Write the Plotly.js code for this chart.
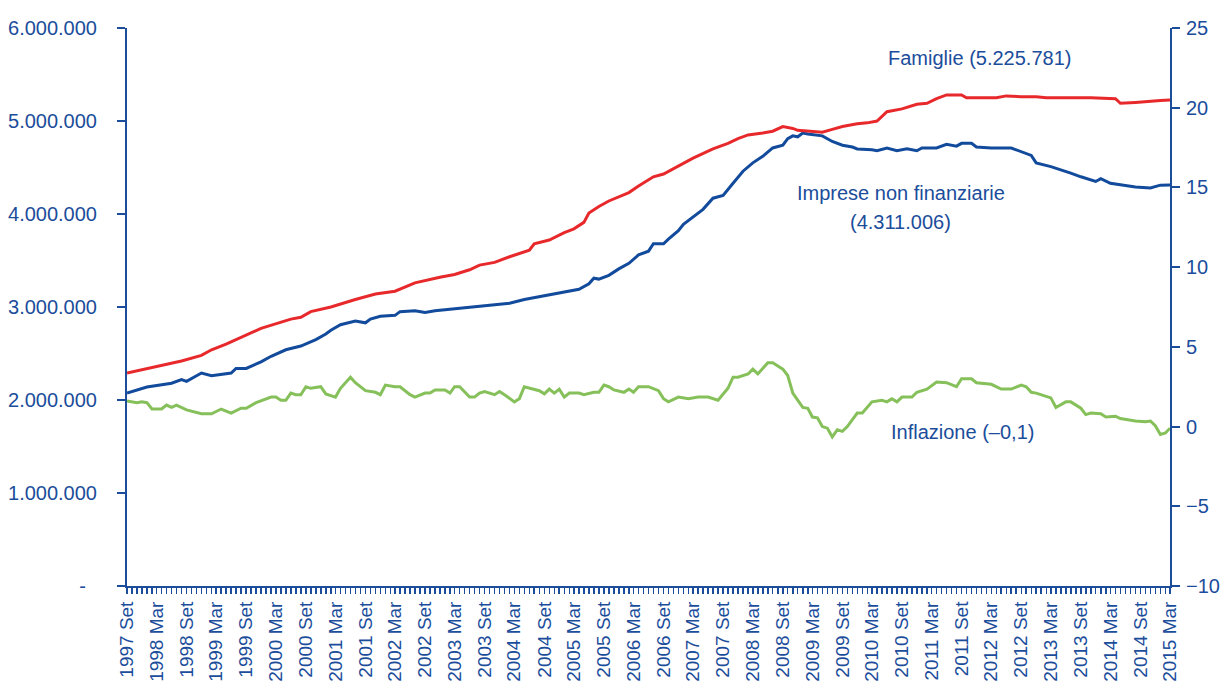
<!DOCTYPE html>
<html><head><meta charset="utf-8">
<script src="https://cdn.plot.ly/plotly-3.0.1.min.js"></script>
<style>html,body{margin:0;padding:0;background:#fff}#chart{width:1220px;height:682px}</style>
</head><body><div id="chart"></div>
<script>
// Famiglie (left axis)
const famDates = ['1997-09','1998-01','1998-04','1998-08','1998-12','1999-02','1999-05','1999-07','1999-12','2000-06','2000-08','2000-10','2001-02','2001-07','2001-11','2002-03','2002-07','2002-12','2003-03','2003-06','2003-08','2003-11','2004-02','2004-06','2004-07','2004-10','2005-01','2005-03','2005-05','2005-06','2005-08','2005-10','2006-02','2006-04','2006-07','2006-09','2006-12','2007-03','2007-07','2007-10','2007-12','2008-02','2008-05','2008-07','2008-09','2008-11','2008-12','2009-02','2009-05','2009-07','2009-09','2009-12','2010-02','2010-04','2010-06','2010-09','2010-12','2011-02','2011-04','2011-06','2011-09','2011-10','2012-01','2012-04','2012-06','2012-09','2012-12','2013-02','2013-06','2013-09','2013-11','2014-04','2014-05','2014-08','2014-12','2015-01','2015-03'];
const famValues = [2290000,2340000,2370000,2420000,2480000,2540000,2600000,2650000,2770000,2870000,2890000,2950000,3000000,3080000,3140000,3170000,3260000,3320000,3350000,3400000,3450000,3480000,3540000,3610000,3680000,3720000,3800000,3840000,3910000,4010000,4080000,4140000,4230000,4300000,4400000,4430000,4520000,4600000,4700000,4760000,4810000,4850000,4870000,4890000,4940000,4920000,4900000,4890000,4880000,4910000,4940000,4970000,4980000,5000000,5100000,5130000,5180000,5190000,5240000,5280000,5280000,5250000,5250000,5250000,5270000,5260000,5260000,5250000,5250000,5250000,5250000,5240000,5190000,5200000,5210000,5220000,5225781];

// Imprese non finanziarie (left axis)
const impDates = ['1997-09','1998-01','1998-06','1998-08','1998-09','1998-12','1999-02','1999-06','1999-07','1999-09','1999-12','2000-02','2000-05','2000-08','2000-11','2001-01','2001-02','2001-04','2001-07','2001-09','2001-10','2001-12','2002-03','2002-04','2002-07','2002-09','2002-11','2003-03','2003-06','2003-11','2004-02','2004-05','2004-08','2004-11','2005-02','2005-04','2005-06','2005-07','2005-08','2005-10','2005-12','2006-02','2006-04','2006-06','2006-07','2006-09','2006-10','2006-12','2007-01','2007-03','2007-05','2007-07','2007-09','2007-11','2008-01','2008-03','2008-05','2008-07','2008-09','2008-10','2008-11','2008-12','2009-01','2009-02','2009-05','2009-07','2009-09','2009-11','2009-12','2010-03','2010-04','2010-06','2010-08','2010-10','2010-12','2011-01','2011-04','2011-06','2011-08','2011-09','2011-11','2011-12','2012-03','2012-07','2012-09','2012-11','2012-12','2013-03','2013-07','2013-09','2013-12','2014-01','2014-03','2014-06','2014-08','2014-11','2015-01','2015-03'];
const impValues = [2075000,2140000,2180000,2220000,2200000,2290000,2260000,2290000,2340000,2340000,2410000,2470000,2540000,2580000,2650000,2710000,2750000,2810000,2850000,2830000,2870000,2900000,2910000,2950000,2960000,2940000,2960000,2980000,3000000,3020000,3040000,3080000,3110000,3140000,3170000,3190000,3250000,3310000,3300000,3340000,3410000,3470000,3560000,3600000,3680000,3680000,3730000,3820000,3890000,3970000,4050000,4170000,4200000,4330000,4460000,4550000,4620000,4710000,4740000,4810000,4840000,4830000,4870000,4860000,4840000,4780000,4740000,4720000,4700000,4690000,4680000,4710000,4680000,4700000,4680000,4710000,4710000,4750000,4730000,4760000,4760000,4720000,4710000,4710000,4670000,4630000,4550000,4510000,4440000,4400000,4350000,4380000,4330000,4310000,4290000,4280000,4310000,4311006];

// Inflazione (right axis)
const infDates = ['1997-09','1997-11','1997-12','1998-01','1998-02','1998-04','1998-05','1998-06','1998-07','1998-09','1998-12','1999-02','1999-04','1999-06','1999-08','1999-09','1999-11','2000-02','2000-03','2000-04','2000-05','2000-06','2000-07','2000-08','2000-09','2000-10','2000-12','2001-01','2001-03','2001-04','2001-06','2001-07','2001-09','2001-11','2001-12','2002-01','2002-03','2002-04','2002-06','2002-07','2002-09','2002-10','2002-11','2003-01','2003-02','2003-03','2003-04','2003-06','2003-07','2003-08','2003-09','2003-11','2003-12','2004-01','2004-03','2004-04','2004-05','2004-07','2004-08','2004-09','2004-10','2004-11','2004-12','2005-01','2005-02','2005-04','2005-05','2005-07','2005-08','2005-09','2005-10','2005-11','2006-01','2006-02','2006-03','2006-04','2006-06','2006-08','2006-09','2006-10','2006-12','2007-02','2007-03','2007-04','2007-06','2007-08','2007-10','2007-11','2007-12','2008-02','2008-03','2008-04','2008-06','2008-07','2008-09','2008-10','2008-11','2009-01','2009-02','2009-03','2009-04','2009-05','2009-06','2009-07','2009-08','2009-09','2009-10','2009-12','2010-01','2010-03','2010-05','2010-06','2010-07','2010-08','2010-09','2010-11','2010-12','2011-02','2011-04','2011-06','2011-08','2011-09','2011-11','2011-12','2012-03','2012-05','2012-07','2012-09','2012-10','2012-11','2012-12','2013-03','2013-04','2013-06','2013-07','2013-09','2013-10','2013-11','2014-01','2014-02','2014-04','2014-05','2014-08','2014-10','2014-11','2014-12','2015-01','2015-02','2015-03'];
const infValues = [1.6,1.5,1.55,1.5,1.1,1.1,1.35,1.2,1.35,1.05,0.8,0.8,1.1,0.85,1.15,1.15,1.5,1.85,1.85,1.65,1.65,2.1,2.0,2.0,2.5,2.4,2.5,2.05,1.85,2.4,3.1,2.75,2.25,2.15,2.0,2.6,2.5,2.5,2.0,1.85,2.1,2.1,2.3,2.3,2.1,2.5,2.5,1.85,1.85,2.1,2.2,2.0,2.2,2.0,1.55,1.75,2.5,2.35,2.25,2.05,2.35,2.1,2.35,1.85,2.1,2.1,2.0,2.15,2.15,2.6,2.5,2.3,2.15,2.35,2.15,2.5,2.5,2.25,1.75,1.55,1.85,1.75,1.8,1.85,1.85,1.65,2.4,3.1,3.1,3.3,3.6,3.3,4.0,4.0,3.6,3.2,2.1,1.2,1.15,0.6,0.55,0.0,-0.1,-0.65,-0.2,-0.3,0.0,0.85,0.85,1.55,1.65,1.55,1.75,1.55,1.85,1.85,2.15,2.35,2.8,2.75,2.5,3.0,3.0,2.75,2.65,2.35,2.35,2.6,2.5,2.15,2.1,1.8,1.2,1.55,1.55,1.15,0.75,0.85,0.8,0.6,0.65,0.5,0.35,0.3,0.35,0.05,-0.5,-0.4,-0.1];

// Axis ticks
const xTickLabels = ['1997 Set','1998 Mar','1998 Set','1999 Mar','1999 Set','2000 Mar','2000 Set','2001 Mar','2001 Set','2002 Mar','2002 Set','2003 Mar','2003 Set','2004 Mar','2004 Set','2005 Mar','2005 Set','2006 Mar','2006 Set','2007 Mar','2007 Set','2008 Mar','2008 Set','2009 Mar','2009 Set','2010 Mar','2010 Set','2011 Mar','2011 Set','2012 Mar','2012 Set','2013 Mar','2013 Set','2014 Mar','2014 Set','2015 Mar'];
const leftTickVals = [0,1000000,2000000,3000000,4000000,5000000,6000000];
const leftTickText = ['-\u00a0\u00a0','1.000.000','2.000.000','3.000.000','4.000.000','5.000.000','6.000.000'];
const rightTickVals = [-10,-5,0,5,10,15,20,25];

const monthMap = {Mar:'03', Set:'09'};
const xTickVals = xTickLabels.map(l => { const p = l.split(' '); return p[0] + '-' + monthMap[p[1]] + '-01'; });

const AX = '#1b4d9b';
const FONT = '"Liberation Sans", Arial, sans-serif';
const FS = 20;

const traces = [
  {x: impDates, y: impValues, type: 'scatter', mode: 'lines', line: {color: '#124a9c', width: 3}, yaxis: 'y', name: 'Imprese non finanziarie'},
  {x: famDates, y: famValues, type: 'scatter', mode: 'lines', line: {color: '#e8292c', width: 3}, yaxis: 'y', name: 'Famiglie'},
  {x: infDates, y: infValues, type: 'scatter', mode: 'lines', line: {color: '#86c05a', width: 3}, yaxis: 'y2', name: 'Inflazione'}
];

const layout = {
  width: 1220, height: 682,
  margin: {l: 127, r: 50, t: 28, b: 96, pad: 0},
  paper_bgcolor: '#fff', plot_bgcolor: '#fff',
  showlegend: false,
  font: {family: FONT, size: FS, color: AX},
  xaxis: {
    type: 'date', range: ['1997-09-01', '2015-03-01'],
    tickmode: 'array', tickvals: xTickVals, ticktext: xTickLabels, tickangle: -90,
    ticks: 'outside', ticklen: 6, tickwidth: 1.5, tickcolor: AX,
    minor: {tickmode: 'linear', tick0: '1997-09-01', dtick: 'M1', ticks: 'outside', ticklen: 6, tickwidth: 1.5, tickcolor: AX, showgrid: false},
    showline: true, linecolor: AX, linewidth: 2, showgrid: false, zeroline: false,
    ticklabelstandoff: 0,
    tickfont: {family: FONT, size: 19, color: AX}
  },
  yaxis: {
    range: [0, 6000000], tickmode: 'array', tickvals: leftTickVals, ticktext: leftTickText,
    ticks: 'outside', ticklen: 8, tickwidth: 2, tickcolor: AX,
    showline: true, linecolor: AX, linewidth: 2, showgrid: false, zeroline: false,
    ticklabelstandoff: 16,
    tickfont: {family: FONT, size: FS, color: AX}
  },
  yaxis2: {
    range: [-10, 25], overlaying: 'y', side: 'right', tickmode: 'array', tickvals: rightTickVals,
    ticks: 'outside', ticklen: 8, tickwidth: 2, tickcolor: AX,
    showline: true, linecolor: AX, linewidth: 2, showgrid: false, zeroline: false,
    ticklabelstandoff: 2,
    tickfont: {family: FONT, size: FS, color: AX}
  },
  annotations: [
    {text: 'Famiglie (5.225.781)', xref: 'paper', yref: 'paper', x: 0.817, y: 0.946, showarrow: false, xanchor: 'center', yanchor: 'middle', font: {family: FONT, size: FS, color: AX}},
    {text: 'Imprese non finanziarie', xref: 'paper', yref: 'paper', x: 0.742, y: 0.704, showarrow: false, xanchor: 'center', yanchor: 'middle', font: {family: FONT, size: FS, color: AX}},
    {text: '(4.311.006)', xref: 'paper', yref: 'paper', x: 0.742, y: 0.652, showarrow: false, xanchor: 'center', yanchor: 'middle', font: {family: FONT, size: FS, color: AX}},
    {text: 'Inflazione (–0,1)', xref: 'paper', yref: 'paper', x: 0.8015, y: 0.276, showarrow: false, xanchor: 'center', yanchor: 'middle', font: {family: FONT, size: FS, color: AX}}
  ]
};

Plotly.newPlot('chart', traces, layout, {displayModeBar: false, staticPlot: true});
</script>
</body></html>
